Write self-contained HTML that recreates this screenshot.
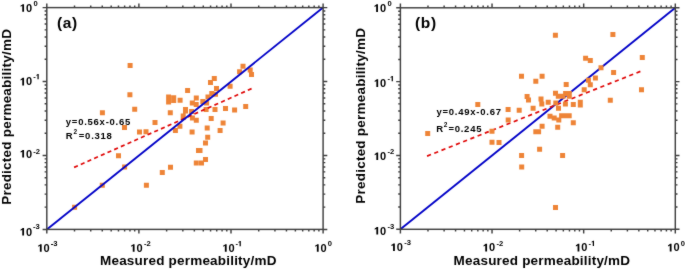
<!DOCTYPE html><html><head><meta charset="utf-8"><style>html,body{margin:0;padding:0;background:#fff}svg{display:block;will-change:transform}</style></head><body><svg width="685" height="269" viewBox="0 0 685 269"><rect width="685" height="269" fill="#fff"/><defs><filter id="bl" x="-2%" y="-2%" width="104%" height="104%" color-interpolation-filters="sRGB"><feConvolveMatrix order="3" kernelMatrix="1 3 1 3 36 3 1 3 1" edgeMode="duplicate"/></filter></defs><g filter="url(#bl)"><g fill="#EE8437"><path d="M127.60 63.00h5.0v5.0h-5.0zM240.50 63.70h5.0v5.0h-5.0zM237.10 69.30h5.0v5.0h-5.0zM247.70 67.40h5.0v5.0h-5.0zM249.00 71.90h5.0v5.0h-5.0zM211.80 75.90h5.0v5.0h-5.0zM208.00 79.90h5.0v5.0h-5.0zM214.00 86.00h5.0v5.0h-5.0zM227.60 83.70h5.0v5.0h-5.0zM185.10 87.90h5.0v5.0h-5.0zM127.40 92.30h5.0v5.0h-5.0zM166.10 94.50h5.0v5.0h-5.0zM166.10 99.40h5.0v5.0h-5.0zM171.20 95.20h5.0v5.0h-5.0zM171.20 98.10h5.0v5.0h-5.0zM177.60 97.80h5.0v5.0h-5.0zM193.80 95.50h5.0v5.0h-5.0zM189.80 100.60h5.0v5.0h-5.0zM193.70 102.10h5.0v5.0h-5.0zM200.30 98.90h5.0v5.0h-5.0zM204.10 100.40h5.0v5.0h-5.0zM205.50 94.40h5.0v5.0h-5.0zM209.30 91.10h5.0v5.0h-5.0zM213.00 91.80h5.0v5.0h-5.0zM132.20 106.80h5.0v5.0h-5.0zM99.90 110.30h5.0v5.0h-5.0zM152.50 120.00h5.0v5.0h-5.0zM122.00 125.10h5.0v5.0h-5.0zM167.80 110.30h5.0v5.0h-5.0zM183.00 107.10h5.0v5.0h-5.0zM183.00 108.40h5.0v5.0h-5.0zM180.70 113.40h5.0v5.0h-5.0zM180.70 115.00h5.0v5.0h-5.0zM189.10 109.10h5.0v5.0h-5.0zM189.90 115.50h5.0v5.0h-5.0zM193.80 117.70h5.0v5.0h-5.0zM203.60 107.10h5.0v5.0h-5.0zM208.70 116.00h5.0v5.0h-5.0zM212.50 107.10h5.0v5.0h-5.0zM223.00 106.00h5.0v5.0h-5.0zM232.10 107.40h5.0v5.0h-5.0zM243.20 104.10h5.0v5.0h-5.0zM220.60 120.50h5.0v5.0h-5.0zM204.70 125.50h5.0v5.0h-5.0zM177.40 123.70h5.0v5.0h-5.0zM172.90 127.90h5.0v5.0h-5.0zM189.60 129.40h5.0v5.0h-5.0zM217.60 127.90h5.0v5.0h-5.0zM205.20 134.70h5.0v5.0h-5.0zM203.00 140.60h5.0v5.0h-5.0zM196.00 147.90h5.0v5.0h-5.0zM197.50 147.90h5.0v5.0h-5.0zM203.00 156.90h5.0v5.0h-5.0zM193.80 160.40h5.0v5.0h-5.0zM199.00 160.40h5.0v5.0h-5.0zM168.00 164.70h5.0v5.0h-5.0zM159.80 169.90h5.0v5.0h-5.0zM143.90 182.70h5.0v5.0h-5.0zM137.00 129.50h5.0v5.0h-5.0zM143.50 129.30h5.0v5.0h-5.0zM116.00 153.30h5.0v5.0h-5.0zM122.10 164.60h5.0v5.0h-5.0zM99.80 182.80h5.0v5.0h-5.0zM72.10 204.80h5.0v5.0h-5.0z"/></g><line x1="74.1" y1="167.4" x2="251.9" y2="88.5" stroke="#E00808" stroke-width="1.7" stroke-dasharray="4.1 3.21"/><line x1="46.8" y1="229.4" x2="323.1" y2="7.6" stroke="#0505C8" stroke-width="1.9"/><rect x="46.8" y="7.6" width="276.30" height="221.80" fill="none" stroke="#404040" stroke-width="1.45"/><path d="M46.80 229.40V233.60M46.80 7.60V3.40M46.80 229.40H42.60M323.10 229.40H327.30M74.52 229.40V231.60M74.52 7.60V5.40M46.80 207.14H44.60M323.10 207.14H325.30M90.74 229.40V231.60M90.74 7.60V5.40M46.80 194.12H44.60M323.10 194.12H325.30M102.25 229.40V231.60M102.25 7.60V5.40M46.80 184.89H44.60M323.10 184.89H325.30M111.18 229.40V231.60M111.18 7.60V5.40M46.80 177.72H44.60M323.10 177.72H325.30M118.47 229.40V231.60M118.47 7.60V5.40M46.80 171.87H44.60M323.10 171.87H325.30M124.63 229.40V231.60M124.63 7.60V5.40M46.80 166.92H44.60M323.10 166.92H325.30M129.97 229.40V231.60M129.97 7.60V5.40M46.80 162.63H44.60M323.10 162.63H325.30M134.69 229.40V231.60M134.69 7.60V5.40M46.80 158.85H44.60M323.10 158.85H325.30M138.90 229.40V233.60M138.90 7.60V3.40M46.80 155.47H42.60M323.10 155.47H327.30M166.62 229.40V231.60M166.62 7.60V5.40M46.80 133.21H44.60M323.10 133.21H325.30M182.84 229.40V231.60M182.84 7.60V5.40M46.80 120.19H44.60M323.10 120.19H325.30M194.35 229.40V231.60M194.35 7.60V5.40M46.80 110.95H44.60M323.10 110.95H325.30M203.28 229.40V231.60M203.28 7.60V5.40M46.80 103.79H44.60M323.10 103.79H325.30M210.57 229.40V231.60M210.57 7.60V5.40M46.80 97.94H44.60M323.10 97.94H325.30M216.73 229.40V231.60M216.73 7.60V5.40M46.80 92.99H44.60M323.10 92.99H325.30M222.07 229.40V231.60M222.07 7.60V5.40M46.80 88.70H44.60M323.10 88.70H325.30M226.79 229.40V231.60M226.79 7.60V5.40M46.80 84.92H44.60M323.10 84.92H325.30M231.00 229.40V233.60M231.00 7.60V3.40M46.80 81.53H42.60M323.10 81.53H327.30M258.72 229.40V231.60M258.72 7.60V5.40M46.80 59.28H44.60M323.10 59.28H325.30M274.94 229.40V231.60M274.94 7.60V5.40M46.80 46.26H44.60M323.10 46.26H325.30M286.45 229.40V231.60M286.45 7.60V5.40M46.80 37.02H44.60M323.10 37.02H325.30M295.38 229.40V231.60M295.38 7.60V5.40M46.80 29.86H44.60M323.10 29.86H325.30M302.67 229.40V231.60M302.67 7.60V5.40M46.80 24.00H44.60M323.10 24.00H325.30M308.83 229.40V231.60M308.83 7.60V5.40M46.80 19.05H44.60M323.10 19.05H325.30M314.17 229.40V231.60M314.17 7.60V5.40M46.80 14.76H44.60M323.10 14.76H325.30M318.89 229.40V231.60M318.89 7.60V5.40M46.80 10.98H44.60M323.10 10.98H325.30M323.10 229.40V233.60M323.10 7.60V3.40M46.80 7.60H42.60M323.10 7.60H327.30" stroke="#404040" stroke-width="1.45" fill="none"/><line x1="400.4" y1="229.3" x2="675.3" y2="7.8" stroke="#0505C8" stroke-width="1.9"/><line x1="427.05" y1="156.1" x2="640.6" y2="71.3" stroke="#E00808" stroke-width="1.7" stroke-dasharray="4.2 3.57"/><g fill="#EE8437"><path d="M552.90 32.70h5.0v5.0h-5.0zM610.40 31.90h5.0v5.0h-5.0zM583.10 55.70h5.0v5.0h-5.0zM587.80 58.00h5.0v5.0h-5.0zM639.80 55.10h5.0v5.0h-5.0zM598.50 65.30h5.0v5.0h-5.0zM611.10 69.90h5.0v5.0h-5.0zM592.90 75.50h5.0v5.0h-5.0zM585.90 77.70h5.0v5.0h-5.0zM587.80 82.20h5.0v5.0h-5.0zM581.70 87.30h5.0v5.0h-5.0zM639.00 87.30h5.0v5.0h-5.0zM607.80 97.80h5.0v5.0h-5.0zM577.80 99.70h5.0v5.0h-5.0zM577.80 102.50h5.0v5.0h-5.0zM519.00 73.80h5.0v5.0h-5.0zM539.60 73.80h5.0v5.0h-5.0zM533.30 78.80h5.0v5.0h-5.0zM563.70 82.00h5.0v5.0h-5.0zM553.00 90.70h5.0v5.0h-5.0zM555.80 93.70h5.0v5.0h-5.0zM560.50 93.70h5.0v5.0h-5.0zM563.10 91.00h5.0v5.0h-5.0zM566.80 91.00h5.0v5.0h-5.0zM566.80 93.70h5.0v5.0h-5.0zM524.60 94.10h5.0v5.0h-5.0zM526.00 97.40h5.0v5.0h-5.0zM538.50 96.40h5.0v5.0h-5.0zM539.30 101.50h5.0v5.0h-5.0zM545.70 99.70h5.0v5.0h-5.0zM553.30 100.60h5.0v5.0h-5.0zM562.90 101.50h5.0v5.0h-5.0zM570.80 102.00h5.0v5.0h-5.0zM530.60 105.70h5.0v5.0h-5.0zM556.00 105.80h5.0v5.0h-5.0zM516.70 107.70h5.0v5.0h-5.0zM505.60 106.90h5.0v5.0h-5.0zM475.30 101.90h5.0v5.0h-5.0zM505.70 117.50h5.0v5.0h-5.0zM547.50 113.70h5.0v5.0h-5.0zM551.70 115.50h5.0v5.0h-5.0zM556.30 117.60h5.0v5.0h-5.0zM559.10 113.20h5.0v5.0h-5.0zM562.90 113.20h5.0v5.0h-5.0zM566.70 113.20h5.0v5.0h-5.0zM570.80 120.20h5.0v5.0h-5.0zM539.60 123.70h5.0v5.0h-5.0zM555.20 124.80h5.0v5.0h-5.0zM533.30 129.30h5.0v5.0h-5.0zM536.10 129.30h5.0v5.0h-5.0zM489.50 128.70h5.0v5.0h-5.0zM489.50 139.80h5.0v5.0h-5.0zM496.50 139.90h5.0v5.0h-5.0zM425.20 131.00h5.0v5.0h-5.0zM537.10 146.80h5.0v5.0h-5.0zM519.10 153.10h5.0v5.0h-5.0zM560.10 153.10h5.0v5.0h-5.0zM519.20 164.40h5.0v5.0h-5.0zM553.00 204.90h5.0v5.0h-5.0z"/></g><rect x="400.4" y="7.8" width="274.90" height="221.50" fill="none" stroke="#404040" stroke-width="1.45"/><path d="M400.40 229.30V233.50M400.40 7.80V3.60M400.40 229.30H396.20M675.30 229.30H679.50M427.98 229.30V231.50M427.98 7.80V5.60M400.40 207.07H398.20M675.30 207.07H677.50M444.12 229.30V231.50M444.12 7.80V5.60M400.40 194.07H398.20M675.30 194.07H677.50M455.57 229.30V231.50M455.57 7.80V5.60M400.40 184.85H398.20M675.30 184.85H677.50M464.45 229.30V231.50M464.45 7.80V5.60M400.40 177.69H398.20M675.30 177.69H677.50M471.70 229.30V231.50M471.70 7.80V5.60M400.40 171.85H398.20M675.30 171.85H677.50M477.84 229.30V231.50M477.84 7.80V5.60M400.40 166.90H398.20M675.30 166.90H677.50M483.15 229.30V231.50M483.15 7.80V5.60M400.40 162.62H398.20M675.30 162.62H677.50M487.84 229.30V231.50M487.84 7.80V5.60M400.40 158.85H398.20M675.30 158.85H677.50M492.03 229.30V233.50M492.03 7.80V3.60M400.40 155.47H396.20M675.30 155.47H679.50M519.62 229.30V231.50M519.62 7.80V5.60M400.40 133.24H398.20M675.30 133.24H677.50M535.75 229.30V231.50M535.75 7.80V5.60M400.40 120.24H398.20M675.30 120.24H677.50M547.20 229.30V231.50M547.20 7.80V5.60M400.40 111.01H398.20M675.30 111.01H677.50M556.08 229.30V231.50M556.08 7.80V5.60M400.40 103.86H398.20M675.30 103.86H677.50M563.34 229.30V231.50M563.34 7.80V5.60M400.40 98.01H398.20M675.30 98.01H677.50M569.47 229.30V231.50M569.47 7.80V5.60M400.40 93.07H398.20M675.30 93.07H677.50M574.79 229.30V231.50M574.79 7.80V5.60M400.40 88.79H398.20M675.30 88.79H677.50M579.47 229.30V231.50M579.47 7.80V5.60M400.40 85.01H398.20M675.30 85.01H677.50M583.67 229.30V233.50M583.67 7.80V3.60M400.40 81.63H396.20M675.30 81.63H679.50M611.25 229.30V231.50M611.25 7.80V5.60M400.40 59.41H398.20M675.30 59.41H677.50M627.39 229.30V231.50M627.39 7.80V5.60M400.40 46.41H398.20M675.30 46.41H677.50M638.84 229.30V231.50M638.84 7.80V5.60M400.40 37.18H398.20M675.30 37.18H677.50M647.72 229.30V231.50M647.72 7.80V5.60M400.40 30.03H398.20M675.30 30.03H677.50M654.97 229.30V231.50M654.97 7.80V5.60M400.40 24.18H398.20M675.30 24.18H677.50M661.11 229.30V231.50M661.11 7.80V5.60M400.40 19.24H398.20M675.30 19.24H677.50M666.42 229.30V231.50M666.42 7.80V5.60M400.40 14.96H398.20M675.30 14.96H677.50M671.11 229.30V231.50M671.11 7.80V5.60M400.40 11.18H398.20M675.30 11.18H677.50M675.30 229.30V233.50M675.30 7.80V3.60M400.40 7.80H396.20M675.30 7.80H679.50" stroke="#404040" stroke-width="1.45" fill="none"/><path fill="#000" transform="translate(19.90 11.70) scale(0.00537 -0.00537)" d="M440 0L775 0L775 1409L520 1409Q400 1240 130 1150L130 925Q320 985 440 1090Z"/><text x="26.02" y="11.7" font-size="11" font-family="Liberation Sans" font-weight="bold" fill="#000">0</text><text x="33.6" y="5.8" font-size="7.6" font-family="Liberation Sans" font-weight="bold" fill="#000">0</text><path fill="#000" transform="translate(19.90 85.40) scale(0.00537 -0.00537)" d="M440 0L775 0L775 1409L520 1409Q400 1240 130 1150L130 925Q320 985 440 1090Z"/><text x="26.02" y="85.4" font-size="11" font-family="Liberation Sans" font-weight="bold" fill="#000">0</text><text x="33.3" y="79.3" font-size="7.6" font-family="Liberation Sans" font-weight="bold" fill="#000">-</text><path fill="#000" transform="translate(35.83 79.30) scale(0.00371 -0.00371)" d="M440 0L775 0L775 1409L520 1409Q400 1240 130 1150L130 925Q320 985 440 1090Z"/><path fill="#000" transform="translate(19.90 157.50) scale(0.00537 -0.00537)" d="M440 0L775 0L775 1409L520 1409Q400 1240 130 1150L130 925Q320 985 440 1090Z"/><text x="26.02" y="157.5" font-size="11" font-family="Liberation Sans" font-weight="bold" fill="#000">0</text><text x="33.3" y="154.4" font-size="7.6" font-family="Liberation Sans" font-weight="bold" fill="#000">-2</text><path fill="#000" transform="translate(19.90 235.60) scale(0.00537 -0.00537)" d="M440 0L775 0L775 1409L520 1409Q400 1240 130 1150L130 925Q320 985 440 1090Z"/><text x="26.02" y="235.6" font-size="11" font-family="Liberation Sans" font-weight="bold" fill="#000">0</text><text x="33.0" y="229.4" font-size="7.6" font-family="Liberation Sans" font-weight="bold" fill="#000">-3</text><path fill="#000" transform="translate(37.50 251.70) scale(0.00537 -0.00537)" d="M440 0L775 0L775 1409L520 1409Q400 1240 130 1150L130 925Q320 985 440 1090Z"/><text x="43.62" y="251.7" font-size="11" font-family="Liberation Sans" font-weight="bold" fill="#000">0</text><text x="50.8" y="246.3" font-size="7.6" font-family="Liberation Sans" font-weight="bold" fill="#000">-3</text><path fill="#000" transform="translate(130.40 251.70) scale(0.00537 -0.00537)" d="M440 0L775 0L775 1409L520 1409Q400 1240 130 1150L130 925Q320 985 440 1090Z"/><text x="136.52" y="251.7" font-size="11" font-family="Liberation Sans" font-weight="bold" fill="#000">0</text><text x="143.9" y="246.4" font-size="7.6" font-family="Liberation Sans" font-weight="bold" fill="#000">-2</text><path fill="#000" transform="translate(222.50 251.70) scale(0.00537 -0.00537)" d="M440 0L775 0L775 1409L520 1409Q400 1240 130 1150L130 925Q320 985 440 1090Z"/><text x="228.62" y="251.7" font-size="11" font-family="Liberation Sans" font-weight="bold" fill="#000">0</text><text x="235.4" y="246.2" font-size="7.6" font-family="Liberation Sans" font-weight="bold" fill="#000">-</text><path fill="#000" transform="translate(237.93 246.20) scale(0.00371 -0.00371)" d="M440 0L775 0L775 1409L520 1409Q400 1240 130 1150L130 925Q320 985 440 1090Z"/><path fill="#000" transform="translate(314.50 251.70) scale(0.00537 -0.00537)" d="M440 0L775 0L775 1409L520 1409Q400 1240 130 1150L130 925Q320 985 440 1090Z"/><text x="320.62" y="251.7" font-size="11" font-family="Liberation Sans" font-weight="bold" fill="#000">0</text><text x="327.8" y="245.6" font-size="7.6" font-family="Liberation Sans" font-weight="bold" fill="#000">0</text><path fill="#000" transform="translate(373.80 11.90) scale(0.00537 -0.00537)" d="M440 0L775 0L775 1409L520 1409Q400 1240 130 1150L130 925Q320 985 440 1090Z"/><text x="379.92" y="11.9" font-size="11" font-family="Liberation Sans" font-weight="bold" fill="#000">0</text><text x="387.6" y="6.2" font-size="7.6" font-family="Liberation Sans" font-weight="bold" fill="#000">0</text><path fill="#000" transform="translate(374.00 86.90) scale(0.00537 -0.00537)" d="M440 0L775 0L775 1409L520 1409Q400 1240 130 1150L130 925Q320 985 440 1090Z"/><text x="380.12" y="86.9" font-size="11" font-family="Liberation Sans" font-weight="bold" fill="#000">0</text><text x="387.5" y="81.2" font-size="7.6" font-family="Liberation Sans" font-weight="bold" fill="#000">-</text><path fill="#000" transform="translate(390.03 81.20) scale(0.00371 -0.00371)" d="M440 0L775 0L775 1409L520 1409Q400 1240 130 1150L130 925Q320 985 440 1090Z"/><path fill="#000" transform="translate(374.00 160.10) scale(0.00537 -0.00537)" d="M440 0L775 0L775 1409L520 1409Q400 1240 130 1150L130 925Q320 985 440 1090Z"/><text x="380.12" y="160.1" font-size="11" font-family="Liberation Sans" font-weight="bold" fill="#000">0</text><text x="387.5" y="154.4" font-size="7.6" font-family="Liberation Sans" font-weight="bold" fill="#000">-2</text><path fill="#000" transform="translate(374.00 234.60) scale(0.00537 -0.00537)" d="M440 0L775 0L775 1409L520 1409Q400 1240 130 1150L130 925Q320 985 440 1090Z"/><text x="380.12" y="234.6" font-size="11" font-family="Liberation Sans" font-weight="bold" fill="#000">0</text><text x="387.5" y="229.2" font-size="7.6" font-family="Liberation Sans" font-weight="bold" fill="#000">-3</text><path fill="#000" transform="translate(390.70 251.00) scale(0.00537 -0.00537)" d="M440 0L775 0L775 1409L520 1409Q400 1240 130 1150L130 925Q320 985 440 1090Z"/><text x="396.82" y="251.0" font-size="11" font-family="Liberation Sans" font-weight="bold" fill="#000">0</text><text x="404.3" y="245.3" font-size="7.6" font-family="Liberation Sans" font-weight="bold" fill="#000">-3</text><path fill="#000" transform="translate(482.90 251.40) scale(0.00537 -0.00537)" d="M440 0L775 0L775 1409L520 1409Q400 1240 130 1150L130 925Q320 985 440 1090Z"/><text x="489.02" y="251.4" font-size="11" font-family="Liberation Sans" font-weight="bold" fill="#000">0</text><text x="496.4" y="246.0" font-size="7.6" font-family="Liberation Sans" font-weight="bold" fill="#000">-2</text><path fill="#000" transform="translate(575.20 251.40) scale(0.00537 -0.00537)" d="M440 0L775 0L775 1409L520 1409Q400 1240 130 1150L130 925Q320 985 440 1090Z"/><text x="581.32" y="251.4" font-size="11" font-family="Liberation Sans" font-weight="bold" fill="#000">0</text><text x="588.6" y="246.0" font-size="7.6" font-family="Liberation Sans" font-weight="bold" fill="#000">-</text><path fill="#000" transform="translate(591.13 246.00) scale(0.00371 -0.00371)" d="M440 0L775 0L775 1409L520 1409Q400 1240 130 1150L130 925Q320 985 440 1090Z"/><path fill="#000" transform="translate(667.40 251.40) scale(0.00537 -0.00537)" d="M440 0L775 0L775 1409L520 1409Q400 1240 130 1150L130 925Q320 985 440 1090Z"/><text x="673.52" y="251.4" font-size="11" font-family="Liberation Sans" font-weight="bold" fill="#000">0</text><text x="680.8" y="245.8" font-size="7.6" font-family="Liberation Sans" font-weight="bold" fill="#000">0</text><text x="100.0" y="265" font-size="13.5" letter-spacing="0.2" font-family="Liberation Sans" font-weight="bold" fill="#000">Measured permeability/mD</text><text x="453.6" y="265" font-size="13.5" letter-spacing="0.2" font-family="Liberation Sans" font-weight="bold" fill="#000">Measured permeability/mD</text><text transform="translate(10.8 204.8) rotate(-90)" font-size="13.5" letter-spacing="0.225" font-family="Liberation Sans" font-weight="bold" fill="#000">Predicted permeability/mD</text><text transform="translate(364.6 203.7) rotate(-90)" font-size="13.5" letter-spacing="0.225" font-family="Liberation Sans" font-weight="bold" fill="#000">Predicted permeability/mD</text><text x="57.0" y="28" font-size="15.5" letter-spacing="0.6" font-family="Liberation Sans" font-weight="bold" fill="#000">(a)</text><text x="415.1" y="28" font-size="15.5" letter-spacing="0.6" font-family="Liberation Sans" font-weight="bold" fill="#000">(b)</text><text x="65.8" y="124.6" font-size="9.5" letter-spacing="0.75" font-family="Liberation Sans" font-weight="bold" fill="#000">y=0.56x-0.65</text><text x="65.8" y="138.5" font-size="9.5" letter-spacing="0.75" font-family="Liberation Sans" font-weight="bold" fill="#000">R<tspan font-size="6.5" dy="-4.3" dx="0.0">2</tspan><tspan dy="4.3" dx="1.0">=0.318</tspan></text><text x="436.5" y="115.1" font-size="9.5" letter-spacing="0.75" font-family="Liberation Sans" font-weight="bold" fill="#000">y=0.49x-0.67</text><text x="436.2" y="131.6" font-size="9.5" letter-spacing="0.75" font-family="Liberation Sans" font-weight="bold" fill="#000">R<tspan font-size="6.5" dy="-4.3" dx="0.0">2</tspan><tspan dy="4.3" dx="0.2">=0.245</tspan></text></g></svg></body></html>
